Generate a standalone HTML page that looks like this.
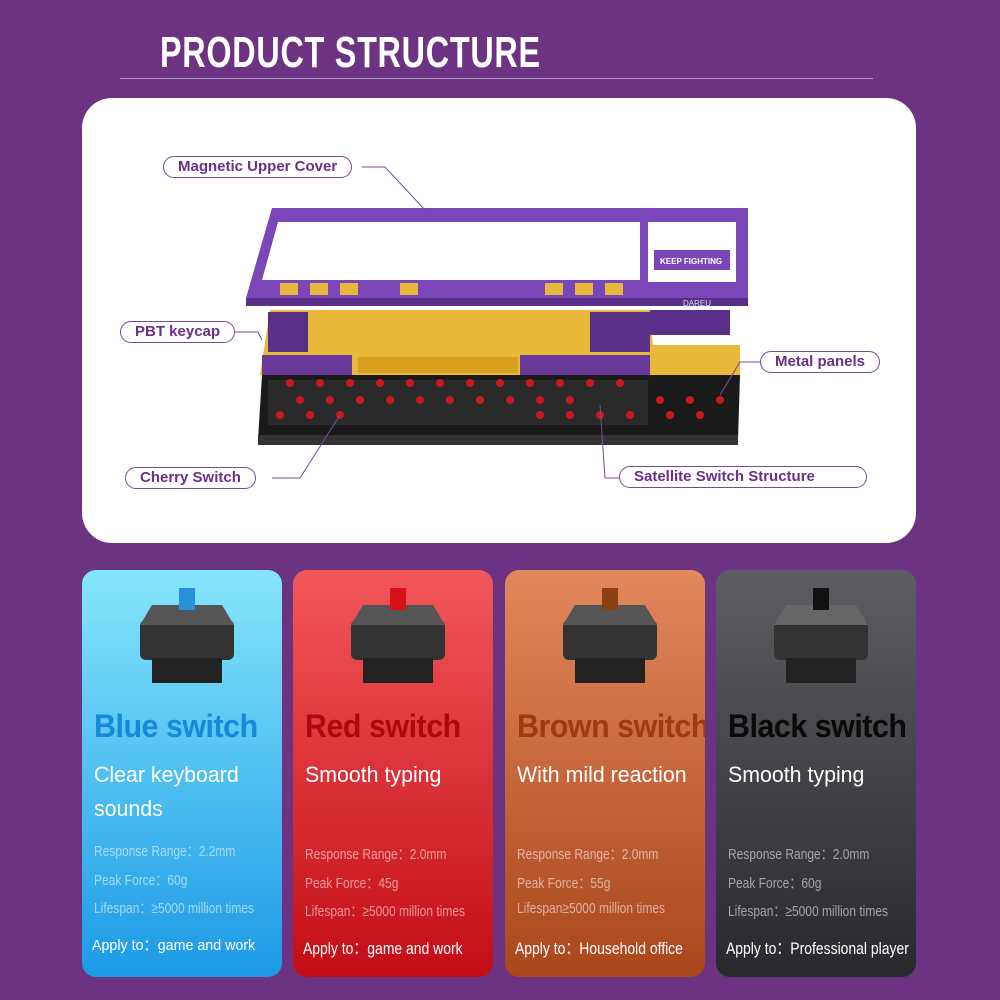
<!DOCTYPE html>
<html><head><meta charset="utf-8"><style>
*{margin:0;padding:0;box-sizing:border-box}
body{width:1000px;height:1000px;background:#6b3382;font-family:"Liberation Sans",sans-serif;position:relative;overflow:hidden}
.title{position:absolute;left:160px;top:28px;font-size:44px;font-weight:bold;color:#fff;letter-spacing:1px;transform:scaleX(0.735);transform-origin:left;white-space:nowrap}
.line{position:absolute;left:120px;top:78px;width:753px;height:1px;background:#b89ac8}
.panel{position:absolute;left:82px;top:98px;width:834px;height:445px;background:#fff;border-radius:30px}
.lbl{position:absolute;border:1.5px solid #7a4a9a;border-radius:12px;color:#6b2f8a;font-weight:bold;font-size:15px;height:22px;line-height:19px;padding:0 14px;background:#fff;white-space:nowrap}
.card{position:absolute;top:570px;width:200px;height:407px;border-radius:14px;overflow:hidden}
.card h2{position:absolute;left:12px;top:138px;font-size:32px;font-weight:bold;white-space:nowrap;letter-spacing:-0.5px;transform:scaleX(0.95);transform-origin:left}
.card .s{position:absolute;left:12px;top:188px;font-size:22px;color:#fff;line-height:34px;white-space:nowrap;transform:scaleX(0.97);transform-origin:left}
.card .d{position:absolute;left:12px;font-size:15px;color:rgba(255,255,255,0.55);white-space:nowrap;transform:scaleX(0.8);transform-origin:left}
.card .a{position:absolute;left:10px;top:364px;font-size:17px;color:#fff;white-space:nowrap;transform:scaleX(0.82);transform-origin:left}
.sw{position:absolute;left:50px;top:10px}
</style></head><body>
<div class="title">PRODUCT STRUCTURE</div>
<div class="line"></div>
<div class="panel"></div>
<svg style="position:absolute;left:0;top:0" width="1000" height="560">
<polygon points="262,375 740,375 738,440 258,440" fill="#1a1a1a"/>
<rect x="258" y="435" width="480" height="10" fill="#333"/>
<rect x="268" y="380" width="380" height="45" fill="#2a2a2a"/>
<g fill="#c81820">
<circle cx="290" cy="383" r="4"/><circle cx="320" cy="383" r="4"/><circle cx="350" cy="383" r="4"/><circle cx="380" cy="383" r="4"/><circle cx="410" cy="383" r="4"/><circle cx="440" cy="383" r="4"/><circle cx="470" cy="383" r="4"/><circle cx="500" cy="383" r="4"/><circle cx="530" cy="383" r="4"/><circle cx="560" cy="383" r="4"/><circle cx="590" cy="383" r="4"/><circle cx="620" cy="383" r="4"/>
<circle cx="300" cy="400" r="4"/><circle cx="330" cy="400" r="4"/><circle cx="360" cy="400" r="4"/><circle cx="390" cy="400" r="4"/><circle cx="420" cy="400" r="4"/><circle cx="450" cy="400" r="4"/><circle cx="480" cy="400" r="4"/><circle cx="510" cy="400" r="4"/><circle cx="540" cy="400" r="4"/><circle cx="570" cy="400" r="4"/><circle cx="660" cy="400" r="4"/><circle cx="690" cy="400" r="4"/><circle cx="720" cy="400" r="4"/>
<circle cx="280" cy="415" r="4"/><circle cx="310" cy="415" r="4"/><circle cx="340" cy="415" r="4"/><circle cx="540" cy="415" r="4"/><circle cx="570" cy="415" r="4"/><circle cx="600" cy="415" r="4"/><circle cx="630" cy="415" r="4"/><circle cx="670" cy="415" r="4"/><circle cx="700" cy="415" r="4"/>
</g>
<polygon points="270,310 650,310 655,375 260,375" fill="#e8b83a"/>
<rect x="262" y="355" width="90" height="20" fill="#6a3a9a"/>
<rect x="520" y="355" width="130" height="20" fill="#6a3a9a"/>
<rect x="268" y="312" width="40" height="40" fill="#5a2f8a"/>
<rect x="590" y="312" width="60" height="40" fill="#5a2f8a"/>
<rect x="358" y="357" width="160" height="16" fill="#d9a020"/>
<rect x="652" y="345" width="88" height="30" fill="#e8b83a"/>
<rect x="650" y="310" width="80" height="25" fill="#5a2f8a"/>
<polygon points="272,208 748,208 748,298 246,298" fill="#7a46b8"/>
<polygon points="278,222 640,222 640,280 262,280" fill="#fff"/>
<rect x="648" y="222" width="88" height="60" fill="#fff"/>
<rect x="654" y="250" width="76" height="20" fill="#7a46b8"/>
<text x="660" y="264" font-size="8" font-weight="bold" fill="#fff" font-family="Liberation Sans">KEEP FIGHTING</text>
<rect x="246" y="298" width="502" height="8" fill="#5a2f8a"/>
<text x="683" y="306" font-size="8" fill="#ddd" font-family="Liberation Sans">DAREU</text>
<g fill="#e8b83a"><rect x="280" y="283" width="18" height="12"/><rect x="310" y="283" width="18" height="12"/><rect x="340" y="283" width="18" height="12"/><rect x="400" y="283" width="18" height="12"/><rect x="545" y="283" width="18" height="12"/><rect x="575" y="283" width="18" height="12"/><rect x="605" y="283" width="18" height="12"/></g>
<g stroke="#7a4a9a" stroke-width="1" fill="none">
<polyline points="362,167 385,167 425,210"/>
<polyline points="234,332 258,332 262,340"/>
<polyline points="760,362 740,362 720,395"/>
<polyline points="272,478 300,478 340,415"/>
<polyline points="620,478 605,478 600,405"/>
</g>
</svg>
<div class="lbl" style="left:163px;top:156px">Magnetic Upper Cover</div>
<div class="lbl" style="left:120px;top:321px">PBT keycap</div>
<div class="lbl" style="left:760px;top:351px">Metal panels</div>
<div class="lbl" style="left:125px;top:467px">Cherry Switch</div>
<div class="lbl" style="left:619px;top:466px;width:248px">Satellite Switch Structure</div>

<div class="card" style="left:82px;background:linear-gradient(180deg,#86e6fc,#1c9ae6)">
<svg class="sw" width="110" height="115"><rect x="8" y="40" width="94" height="40" rx="6" fill="#333"/><polygon points="20,25 90,25 102,45 8,45" fill="#555"/><rect x="20" y="78" width="70" height="25" fill="#222"/><rect x="47" y="8" width="16" height="22" fill="#2a8fd8"/></svg>
<h2 style="color:#1888d8">Blue switch</h2><div class="s">Clear keyboard<br>sounds</div>
<div class="d" style="top:270px">Response Range：2.2mm</div><div class="d" style="top:299px">Peak Force：60g</div><div class="d" style="top:327px">Lifespan：≥5000 million times</div>
<div class="a" style="font-size:15px;transform:scaleX(0.95)">Apply to：game and work</div></div>

<div class="card" style="left:293px;background:linear-gradient(180deg,#f2575b,#c30d16)">
<svg class="sw" width="110" height="115"><rect x="8" y="40" width="94" height="40" rx="6" fill="#333"/><polygon points="20,25 90,25 102,45 8,45" fill="#555"/><rect x="20" y="78" width="70" height="25" fill="#222"/><rect x="47" y="8" width="16" height="22" fill="#d8101a"/></svg>
<h2 style="color:#b0060e">Red switch</h2><div class="s">Smooth typing</div>
<div class="d" style="top:273px">Response Range：2.0mm</div><div class="d" style="top:302px">Peak Force：45g</div><div class="d" style="top:330px">Lifespan：≥5000 million times</div>
<div class="a">Apply to：game and work</div></div>

<div class="card" style="left:505px;background:linear-gradient(180deg,#e3875d,#a9461c)">
<svg class="sw" width="110" height="115"><rect x="8" y="40" width="94" height="40" rx="6" fill="#333"/><polygon points="20,25 90,25 102,45 8,45" fill="#555"/><rect x="20" y="78" width="70" height="25" fill="#222"/><rect x="47" y="8" width="16" height="22" fill="#8a4010"/></svg>
<h2 style="color:#a03a10">Brown switch</h2><div class="s">With mild reaction</div>
<div class="d" style="top:273px">Response Range：2.0mm</div><div class="d" style="top:302px">Peak Force：55g</div><div class="d" style="top:330px">Lifespan≥5000 million times</div>
<div class="a">Apply to：Household office</div></div>

<div class="card" style="left:716px;background:linear-gradient(180deg,#5d5d62,#29292d)">
<svg class="sw" width="110" height="115"><rect x="8" y="40" width="94" height="40" rx="6" fill="#333"/><polygon points="20,25 90,25 102,45 8,45" fill="#666"/><rect x="20" y="78" width="70" height="25" fill="#222"/><rect x="47" y="8" width="16" height="22" fill="#111"/></svg>
<h2 style="color:#0a0a0a">Black switch</h2><div class="s">Smooth typing</div>
<div class="d" style="top:273px">Response Range：2.0mm</div><div class="d" style="top:302px">Peak Force：60g</div><div class="d" style="top:330px">Lifespan：≥5000 million times</div>
<div class="a">Apply to：Professional player</div></div>
</body></html>
